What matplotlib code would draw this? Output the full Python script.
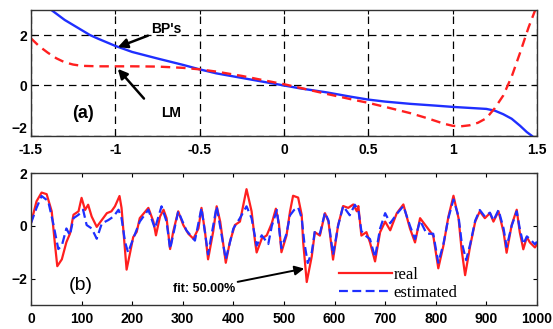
import matplotlib
matplotlib.use("Agg")
import matplotlib.pyplot as plt
import numpy as np

# (a) BP's curve vs LM curve
bp_x = [-1.38, -1.3, -1.2, -1.15, -1.1, -1.0, -0.9, -0.75, -0.6, -0.5, -0.4, -0.25, -0.1, 0.0,
        0.1, 0.25, 0.4, 0.5, 0.6, 0.75, 0.9, 1.0, 1.1, 1.2, 1.25, 1.3, 1.35, 1.4, 1.44, 1.47]
bp_y = [3.0, 2.6, 2.2, 2.0, 1.85, 1.57, 1.33, 1.07, 0.82, 0.64, 0.48, 0.3, 0.12, 0.0,
        -0.12, -0.27, -0.45, -0.56, -0.64, -0.73, -0.8, -0.85, -0.89, -0.93, -1.0, -1.14, -1.32, -1.6, -1.85, -2.0]
lm_x = [-1.5, -1.45, -1.4, -1.35, -1.3, -1.25, -1.2, -1.1, -1.0, -0.9, -0.75, -0.6, -0.5, -0.4,
        -0.25, -0.1, 0.0, 0.1, 0.25, 0.4, 0.5, 0.6, 0.75, 0.85, 0.95, 1.0, 1.05, 1.1, 1.15, 1.2,
        1.25, 1.3, 1.35, 1.4, 1.45, 1.49]
lm_y = [1.87, 1.55, 1.3, 1.08, 0.92, 0.83, 0.78, 0.76, 0.76, 0.76, 0.75, 0.7, 0.64, 0.55,
        0.38, 0.18, 0.05, -0.1, -0.33, -0.55, -0.69, -0.85, -1.1, -1.3, -1.52, -1.6, -1.62, -1.58, -1.48, -1.3,
        -0.9, -0.4, 0.35, 1.3, 2.3, 3.0]

# (b) real vs estimated output
real_t = [0, 11, 21, 31, 41, 47, 52, 61, 70, 77, 84, 94, 100, 107, 113, 120, 130, 140, 150, 159,
          166, 175, 179, 184, 189, 196, 202, 209, 215, 232, 242, 247, 255, 262, 268, 275, 281, 291,
          301, 311, 321, 331, 337, 344, 350, 360, 367, 374, 385, 393, 403, 413, 426, 436, 443, 446,
          456, 466, 476, 484, 490, 495, 505, 512, 518, 528, 535, 538, 545, 555, 561, 571, 581, 588,
          597, 607, 617, 627, 637, 644, 647, 653, 663, 670, 680, 690, 700, 710, 723, 736, 749, 759,
          769, 782, 795, 805, 815, 825, 835, 845, 851, 858, 868, 878, 887, 897, 907, 914, 924, 934,
          940, 950, 960, 966, 973, 980, 986, 996, 1000]
real_y = [0.1, 0.93, 1.26, 1.2, 0.55, -0.62, -1.53, -1.27, -0.62, -0.3, 0.42, 0.55, 1.06, 0.6,
          0.8, 0.35, -0.04, 0.22, 0.48, 0.55, 0.74, 1.13, 0.68, -0.49, -1.66, -1.01, -0.43, -0.23,
          0.29, 0.68, 0.16, -0.36, 0.35, 0.61, 0.29, -0.88, -0.23, 0.55, 0.03, -0.3, -0.49, -0.1,
          0.68, -0.23, -1.27, -0.23, 0.74, 0.16, -1.4, -0.62, 0.03, 0.16, 1.39, 0.55, -0.62, -1.01,
          -0.49, -0.36, 0.1, 0.65, 0.1, -1.0, -0.37, 0.55, 1.14, 1.07, 0.42, -0.63, -2.13, -1.15,
          -0.24, -0.37, 0.48, 0.16, -1.28, 0.03, 0.75, 0.68, 0.81, 0.55, 0.75, -0.37, -0.24, -0.63,
          -1.35, -0.24, 0.16, -0.17, 0.48, 0.81, -0.1, -0.63, 0.29, -0.04, -0.37, -1.61, -0.76, 0.35,
          1.14, 0.29, -0.89, -1.87, -0.76, 0.16, 0.55, 0.29, 0.48, 0.16, 0.55, -0.24, -1.02, 0.03,
          0.61, -0.24, -0.89, -0.43, -0.63, -0.82, -0.7]
est_t = [0, 11, 21, 34, 44, 54, 61, 70, 77, 84, 94, 103, 110, 120, 130, 140, 153, 163, 173, 179,
         186, 192, 202, 215, 232, 245, 258, 268, 275, 291, 307, 324, 337, 350, 367, 385, 400, 413,
         426, 436, 446, 456, 469, 476, 486, 495, 505, 512, 520, 528, 535, 540, 547, 555, 561, 571,
         581, 588, 597, 607, 617, 630, 640, 647, 653, 663, 670, 680, 690, 700, 710, 723, 736, 749,
         759, 769, 782, 795, 805, 815, 825, 835, 845, 851, 860, 868, 878, 887, 897, 907, 914, 924,
         934, 940, 950, 960, 966, 973, 980, 986, 996, 1000]
est_y = [0.1, 0.68, 1.13, 0.94, 0.09, -0.88, -0.75, -0.1, -0.36, 0.29, 0.42, 0.61, 0.03, -0.1,
         -0.49, 0.09, 0.22, 0.35, 0.61, 0.29, -0.62, -1.01, -0.49, 0.16, 0.61, -0.1, 0.74, 0.16,
         -0.88, 0.55, -0.17, -0.56, 0.68, -1.08, 0.74, -1.27, -0.1, 0.29, 0.74, 0.29, -0.75, -0.36,
         -0.69, 0.0, 0.6, -0.85, -0.3, 0.4, 0.6, 0.7, 0.3, -0.6, -1.41, -1.0, -0.2, -0.3, 0.5, 0.2,
         -1.1, 0.0, 0.75, 0.4, 0.8, 0.6, -0.2, -0.4, -0.5, -1.2, -0.1, 0.48, 0.1, 0.45, 0.75, 0.0,
         -0.5, 0.2, -0.3, -0.3, -1.4, -0.7, 0.3, 1.0, 0.35, -0.6, -1.3, -0.7, 0.2, 0.6, 0.35, 0.5,
         0.2, 0.6, -0.1, -0.8, 0.0, 0.55, -0.1, -0.7, -0.4, -0.5, -0.7, -0.6]

RED = "#ff1f1f"
BLUE = "#1f2fff"
tick_font = dict(family="Liberation Sans", weight="bold", size=10)

fig = plt.figure(figsize=(5.53, 3.29), dpi=100)

def style_axes(ax):
    ax.tick_params(direction="in", top=True, right=True, length=3, width=0.8)
    ax.tick_params(axis="x", pad=5)
    ax.tick_params(axis="y", pad=3)
    for lab in ax.get_xticklabels() + ax.get_yticklabels():
        lab.set_fontfamily(tick_font["family"])
        lab.set_fontweight(tick_font["weight"])
        lab.set_fontsize(tick_font["size"])
    for s in ax.spines.values():
        s.set_linewidth(1.0)
        s.set_color("#333333")

# ---- (a)
ax1 = fig.add_axes([0.056, 0.587, 0.915, 0.383])
ax1.plot(bp_x, bp_y, color=BLUE, lw=1.7)
ax1.plot(lm_x, lm_y, color=RED, lw=1.7, ls=(0, (4, 2.5)))
ax1.set_xlim(-1.5, 1.5)
ax1.set_ylim(-2, 3)
ax1.set_xticks(np.arange(-1.5, 1.51, 0.5))
ax1.set_xticklabels(["-1.5", "-1", "-0.5", "0", "0.5", "1", "1.5"])
ax1.set_yticks([-2, 0, 2])
ax1.grid(True, color="black", ls=(0, (6, 4)), lw=0.9)
style_axes(ax1)
ax1.get_yticklabels()[0].set_verticalalignment("bottom")

ax1.text(-1.19, -1.12, "(a)", ha="center", va="center", fontsize=13, weight="bold",
         family="Liberation Sans")
ax1.annotate("BP's", xy=(-0.985, 1.52), xytext=(-0.79, 2.25), ha="left", va="center",
             fontsize=10, weight="bold", family="Liberation Sans",
             arrowprops=dict(arrowstyle="-|>", color="black", lw=1.8, mutation_scale=14,
                             shrinkA=0, shrinkB=0))
ax1.annotate("", xy=(-0.985, 0.66), xytext=(-0.83, -0.52),
             arrowprops=dict(arrowstyle="-|>", color="black", lw=1.8, mutation_scale=14,
                             shrinkA=0, shrinkB=0))
ax1.text(-0.67, -1.1, "LM", ha="center", va="center", fontsize=10, weight="bold",
         family="Liberation Sans")

# ---- (b)
ax2 = fig.add_axes([0.056, 0.073, 0.915, 0.401])
ax2.plot(real_t, real_y, color=RED, lw=1.6, label="real")
ax2.plot(est_t, est_y, color=BLUE, lw=1.6, ls=(0, (4, 2)), label="estimated")
ax2.set_xlim(0, 1000)
ax2.set_ylim(-3, 2)
ax2.set_xticks(np.arange(0, 1001, 100))
ax2.set_yticks([-2, 0, 2])
style_axes(ax2)

ax2.text(99, -2.25, "(b)", ha="center", va="center", fontsize=14, family="Liberation Sans")
ax2.annotate("fit: 50.00%", xy=(540, -1.62), xytext=(280, -2.38), ha="left", va="center",
             fontsize=9, weight="bold", family="Liberation Sans",
             arrowprops=dict(arrowstyle="-|>", color="black", lw=1.4, mutation_scale=14,
                             shrinkA=0, shrinkB=0))
leg = ax2.legend(loc="lower left", bbox_to_anchor=(0.595, -0.02), frameon=False,
                 prop=dict(family="Liberation Serif", size=12), handlelength=3.2,
                 handletextpad=0.1, labelspacing=0.1, borderaxespad=0)

fig.savefig("out.png", dpi=100)
